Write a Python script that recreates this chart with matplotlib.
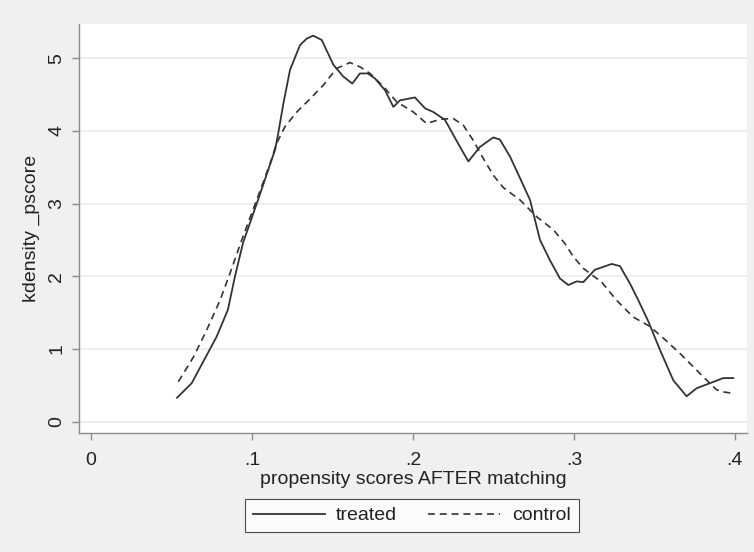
import matplotlib
matplotlib.use("Agg")
import matplotlib.pyplot as plt

plt.rcParams["font.family"] = ["Liberation Sans", "DejaVu Sans"]
plt.rcParams["lines.scale_dashes"] = False

# kernel density of propensity score
treated_x = [0.0534, 0.0625, 0.078, 0.085, 0.0894, 0.0944, 0.1037, 0.1143, 0.1163,
             0.1195, 0.1236, 0.1298, 0.134, 0.138, 0.1433, 0.1505, 0.1566, 0.1623,
             0.167, 0.172, 0.1764, 0.1826, 0.1878, 0.1919, 0.2012, 0.2075, 0.2126,
             0.2199, 0.2292, 0.2344, 0.2416, 0.2499, 0.254, 0.2602, 0.2665, 0.2727,
             0.2789, 0.2851, 0.2913, 0.2965, 0.3017, 0.3058, 0.313, 0.3234, 0.3286,
             0.3348, 0.34, 0.3462, 0.3534, 0.3617, 0.37, 0.3762, 0.3845, 0.3927, 0.399]
treated_y = [0.33, 0.53, 1.17, 1.54, 2.0, 2.46, 3.05, 3.74, 3.97,
             4.38, 4.84, 5.18, 5.27, 5.31, 5.25, 4.91, 4.75, 4.65,
             4.79, 4.79, 4.72, 4.56, 4.33, 4.42, 4.46, 4.31, 4.26,
             4.15, 3.78, 3.58, 3.78, 3.91, 3.88, 3.65, 3.35, 3.05,
             2.50, 2.22, 1.97, 1.88, 1.93, 1.92, 2.09, 2.17, 2.14,
             1.90, 1.67, 1.38, 0.99, 0.57, 0.35, 0.46, 0.53, 0.60, 0.60]

control_x = [0.0542, 0.0636, 0.0718, 0.0801, 0.0863, 0.0936, 0.1029, 0.1112, 0.1153,
             0.1205, 0.1278, 0.136, 0.1443, 0.1526, 0.1609, 0.1671, 0.1733, 0.1816,
             0.1899, 0.2002, 0.2085, 0.2168, 0.225, 0.2312, 0.2374, 0.2437, 0.2499,
             0.2561, 0.2665, 0.2768, 0.2872, 0.2944, 0.2996, 0.3058, 0.3141, 0.3161,
             0.3265, 0.3368, 0.3472, 0.3555, 0.3658, 0.3762, 0.3834, 0.3886, 0.3927, 0.399]
control_y = [0.55, 0.89, 1.26, 1.67, 2.04, 2.50, 3.05, 3.55, 3.83,
             4.06, 4.26, 4.44, 4.63, 4.86, 4.94, 4.88, 4.79, 4.61,
             4.40, 4.26, 4.10, 4.16, 4.17, 4.08, 3.87, 3.62, 3.39,
             3.22, 3.05, 2.82, 2.64, 2.45, 2.27, 2.11, 1.97, 1.95,
             1.67, 1.44, 1.31, 1.15, 0.94, 0.71, 0.55, 0.44, 0.41, 0.39]

x_ticks = [0, 0.1, 0.2, 0.3, 0.4]
x_ticklabels = ["0", ".1", ".2", ".3", ".4"]
y_ticks = [0, 1, 2, 3, 4, 5]

line_col = "#333333"
fs = 14
fig = plt.figure(figsize=(7.54, 5.52), dpi=100, facecolor="#eef0f2")
ax = fig.add_axes([0.1048, 0.2156, 0.8859, 0.7409])
ax.set_facecolor("white")

ax.plot(treated_x, treated_y, color=line_col, lw=1.3, label="treated")
ax.plot(control_x, control_y, color=line_col, lw=1.2, dashes=(5, 3.5), label="control")

ax.set_xlim(-0.0075, 0.4075)
ax.set_ylim(-0.155, 5.47)
ax.set_xticks(x_ticks)
ax.set_xticklabels(x_ticklabels)
ax.set_yticks(y_ticks)
ax.set_yticklabels([str(v) for v in y_ticks], rotation=90, va="center")
ax.grid(axis="y", color="#ececec", lw=1.2)
ax.set_axisbelow(True)
for s in ["top", "right"]:
    ax.spines[s].set_visible(False)
for s in ["left", "bottom"]:
    ax.spines[s].set_color("#8a8a8a")
    ax.spines[s].set_linewidth(1.0)
ax.tick_params(colors="#8a8a8a", labelcolor="#222222", labelsize=fs, length=5, width=1.0)
ax.tick_params(axis="y", pad=5)
ax.tick_params(axis="x", pad=9)

ax.set_xlabel("propensity scores AFTER matching", fontsize=fs, color="#222222", labelpad=1)
ax.set_ylabel("kdensity _pscore", fontsize=fs, color="#222222", labelpad=6)

leg = fig.legend(loc="center", bbox_to_anchor=(0.546, 0.066), ncol=2, frameon=True,
                 fancybox=False, fontsize=fs, handlelength=3.7, handletextpad=0.6,
                 columnspacing=1.6, borderpad=0.4, edgecolor="#222222")
leg.get_frame().set_linewidth(0.8)
leg.get_frame().set_facecolor("white")
for t in leg.get_texts():
    t.set_color("#222222")

fig.savefig("out.png", dpi=100, facecolor=fig.get_facecolor())
plt.close(fig)
